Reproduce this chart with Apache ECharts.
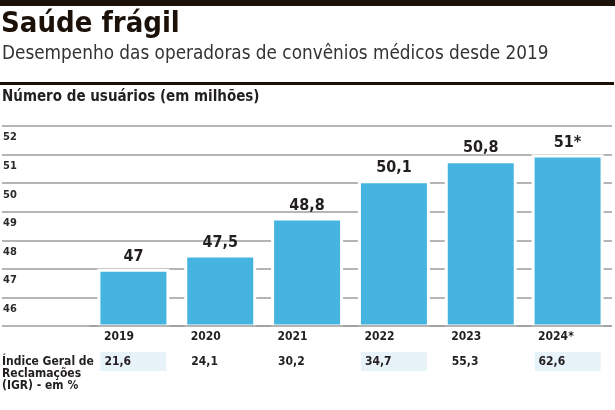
<!DOCTYPE html>
<html><head><meta charset="utf-8">
<script src="https://cdn.jsdelivr.net/npm/echarts@6/dist/echarts.min.js"></script>
<style>html,body{margin:0;padding:0;background:#fff}#c{width:615px;height:410px}</style>
</head><body><div id="c"></div>
<script>
const years = ['2019', '2020', '2021', '2022', '2023', '2024*'];
const usuarios = [47, 47.5, 48.8, 50.1, 50.8, 51];
const igr = [21.6, 24.1, 30.2, 34.7, 55.3, 62.6];
const yTicks = [46, 47, 48, 49, 50, 51, 52];
const yMin = 45, yMax = 52;

const F = "'DejaVu Sans Condensed','Liberation Sans Narrow','DejaVu Sans',sans-serif";
const INK = '#231f20';
const BLUE = '#45b4de';
const GRID = '#9c9c9c';
const SHADE = '#e8f2f9';
const shadedCols = new Set([0, 3, 5]);
const fmt = v => String(v).replace('.', ',');

const chart = echarts.init(document.getElementById('c'), null, {renderer: 'canvas'});
chart.setOption({
  animation: false,
  backgroundColor: '#fff',
  grid: [
    {left: 90, right: 4, top: 126, bottom: 84},
    {left: 2, right: 3, top: 126, bottom: 84}
  ],
  xAxis: [
    {
      type: 'category', gridIndex: 0, data: years, position: 'bottom', z: 5,
      axisLine: {show: true, lineStyle: {color: GRID, width: 1.5}},
      axisTick: {show: false},
      axisLabel: {
        interval: 0, margin: 5, verticalAlign: 'top', align: 'center',
        formatter: v => '{y|' + v + '}',
        rich: {y: {width: 64, align: 'left', padding: [0, 0, 0, 5],
          fontFamily: F, fontWeight: 'bold', fontSize: 12, color: INK}}
      }
    },
    {
      type: 'category', gridIndex: 0, data: years, position: 'bottom', offset: 20,
      axisLine: {show: false}, axisTick: {show: false},
      axisLabel: {
        interval: 0, margin: 6, verticalAlign: 'top', align: 'center',
        formatter: (v, i) => '{' + (shadedCols.has(i) ? 's' : 'n') + '|' + fmt(igr[i]) + '}',
        rich: {
          s: {width: 62, height: 19, lineHeight: 19, align: 'left', padding: [0, 0, 0, 4],
            backgroundColor: SHADE, fontFamily: F, fontWeight: 'bold', fontSize: 12, color: INK},
          n: {width: 62, height: 19, lineHeight: 19, align: 'left', padding: [0, 0, 0, 4],
            fontFamily: F, fontWeight: 'bold', fontSize: 12, color: INK}
        }
      }
    },
    {type: 'value', gridIndex: 1, show: false, min: 0, max: 1}
  ],
  yAxis: [
    {type: 'value', gridIndex: 0, min: yMin, max: yMax, interval: 1, show: false},
    {
      type: 'value', gridIndex: 1, min: yMin, max: yMax, interval: 1,
      axisLine: {show: false}, axisTick: {show: false},
      splitLine: {show: true, lineStyle: {color: GRID, width: 1.5}},
      axisLabel: {
        align: 'left', margin: -1, verticalAlign: 'top', padding: [6, 0, 0, 0],
        fontFamily: F, fontWeight: 'bold', fontSize: 11, color: '#2a2a2a',
        formatter: v => yTicks.includes(v) ? String(v) : ''
      }
    }
  ],
  series: [{
    type: 'bar', xAxisIndex: 0, yAxisIndex: 0,
    data: usuarios, barWidth: 72,
    itemStyle: {color: BLUE, borderColor: '#fff', borderWidth: 3},
    label: {
      show: true, position: 'top', distance: 4,
      fontFamily: F, fontWeight: 'bold', fontSize: 16, color: INK,
      formatter: p => fmt(p.value) + (years[p.dataIndex].endsWith('*') ? '*' : '')
    }
  }],
  graphic: [
    {type: 'rect', shape: {x: 0, y: 0, width: 615, height: 6}, style: {fill: '#1b1109'}},
    {type: 'text', x: 1, y: 24, style: {text: 'Saúde frágil', fontFamily: F, fontWeight: 'bold',
      fontSize: 29, fill: '#1b1109', verticalAlign: 'middle', align: 'left'}},
    {type: 'text', x: 2, y: 54.5, style: {text: 'Desempenho das operadoras de convênios médicos desde 2019',
      fontFamily: F, fontSize: 18.8, fill: '#333333', verticalAlign: 'middle', align: 'left'}},
    {type: 'rect', shape: {x: 0, y: 82, width: 614, height: 3}, style: {fill: '#1b1109'}},
    {type: 'text', x: 2, y: 97, style: {text: 'Número de usuários (em milhões)', fontFamily: F, fontWeight: 'bold',
      fontSize: 15, fill: INK, verticalAlign: 'middle', align: 'left'}},
    {type: 'text', x: 2, y: 356, style: {text: 'Índice Geral de\nReclamações\n(IGR) - em %', fontFamily: F,
      fontWeight: 'bold', fontSize: 12, lineHeight: 12, fill: INK, verticalAlign: 'top', align: 'left'}}
  ]
});
</script>
</body></html>
